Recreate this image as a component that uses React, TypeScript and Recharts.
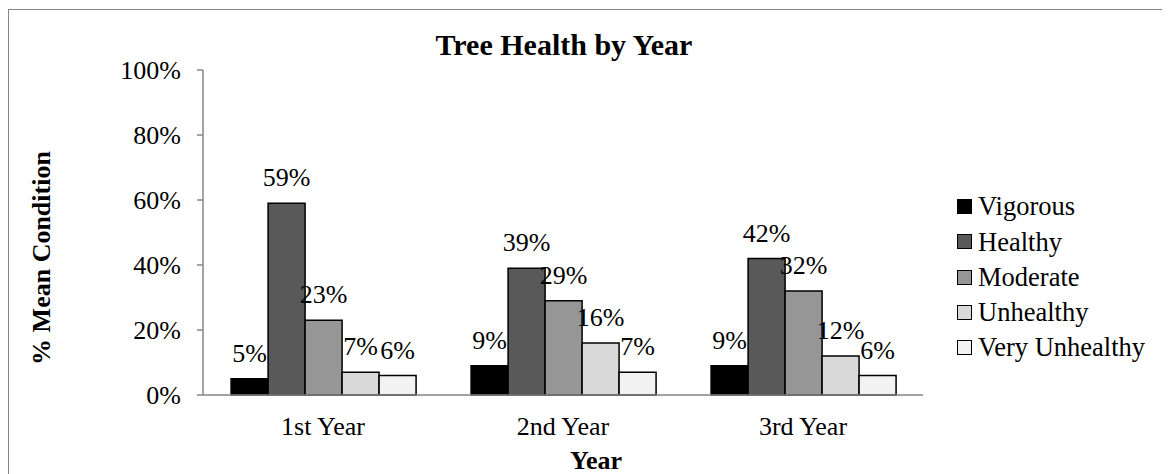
import { Bar, BarChart, LabelList, Legend, XAxis, YAxis } from "recharts";

const categories = ["1st Year", "2nd Year", "3rd Year"];
const seriesNames = ["Vigorous", "Healthy", "Moderate", "Unhealthy", "Very Unhealthy"];
const seriesColors = ["#000000", "#595959", "#969696", "#d9d9d9", "#f2f2f2"];

const vigorous = [5, 9, 9];
const healthy = [59, 39, 42];
const moderate = [23, 29, 32];
const unhealthy = [7, 16, 12];
const veryUnhealthy = [6, 7, 6];

const yTicks = [0, 20, 40, 60, 80, 100];

const seriesValues = [vigorous, healthy, moderate, unhealthy, veryUnhealthy];

const data = categories.map((label, i) => {
	const row: Record<string, string | number> = { label };
	seriesNames.forEach((name, s) => {
		row[name] = seriesValues[s][i];
	});
	return row;
});

const FONT = "Liberation Serif, Times New Roman, serif";
const AXIS_GRAY = "#868686";

const fontCss = `
.tree-chart, .tree-chart text, .tree-chart .recharts-text, .tree-chart .recharts-legend-wrapper {
	font-family: "Liberation Serif", "Times New Roman", serif !important;
}
`;

function LegendContent() {
	return (
		<div style={{ fontFamily: FONT, fontSize: 26.5, color: "#000" }}>
			{seriesNames.map((name, i) => (
				<div key={name} style={{ display: "flex", alignItems: "center", height: 35.25 }}>
					<span
						style={{
							display: "inline-block",
							width: 15,
							height: 15,
							boxSizing: "border-box",
							border: "1.5px solid #000",
							background: seriesColors[i],
							marginRight: 6,
						}}
					/>
					<span style={{ lineHeight: 1, whiteSpace: "nowrap" }}>{name}</span>
				</div>
			))}
		</div>
	);
}

export default function App() {
	return (
		<div
			className="tree-chart"
			style={{
				position: "relative",
				width: 1161,
				height: 464,
				marginTop: 1,
				borderTop: `1px solid ${AXIS_GRAY}`,
				borderLeft: `1px solid ${AXIS_GRAY}`,
				fontFamily: FONT,
				color: "#000",
				overflow: "hidden",
			}}
		>
			<style>{fontCss}</style>
			<BarChart
				width={1161}
				height={464}
				data={data}
				margin={{ top: 60, right: 34, left: 0, bottom: 39 }}
				barCategoryGap="11.7%"
				barGap={0}
			>
				<XAxis
					dataKey="label"
					height={40}
					axisLine={{ stroke: AXIS_GRAY, strokeWidth: 1.5 }}
					tickLine={false}
					tickSize={0}
					tickMargin={22}
					interval={0}
					tick={{ fill: "#000", fontSize: 26, fontFamily: FONT }}
				/>
				<YAxis
					width={194}
					domain={[0, 100]}
					ticks={yTicks}
					interval={0}
					tickFormatter={(v: number) => `${v}%`}
					axisLine={{ stroke: AXIS_GRAY, strokeWidth: 1.5 }}
					tickLine={{ stroke: AXIS_GRAY, strokeWidth: 1.5 }}
					tickSize={6}
					tickMargin={16}
					tick={{ fill: "#000", fontSize: 26, fontFamily: FONT }}
				/>
				<Legend
					layout="vertical"
					align="right"
					verticalAlign="middle"
					width={213}
					wrapperStyle={{ left: 948, top: 179, right: "auto" }}
					content={() => <LegendContent />}
				/>
				{seriesNames.map((name, i) => (
					<Bar
						key={name}
						dataKey={name}
						fill={seriesColors[i]}
						stroke="#000"
						strokeWidth={1.5}
						isAnimationActive={false}
					>
						<LabelList
							dataKey={name}
							position="top"
							offset={17}
							formatter={(v: any) => `${v}%`}
							fill="#000"
							fontSize={26}
							fontFamily={FONT}
						/>
					</Bar>
				))}
			</BarChart>

			<div
				style={{
					position: "absolute",
					left: 555 - 300,
					top: 20,
					width: 600,
					textAlign: "center",
					fontSize: 30,
					lineHeight: 1,
					fontWeight: "bold",
				}}
			>
				Tree Health by Year
			</div>

			<div
				style={{
					position: "absolute",
					left: 587 - 100,
					top: 438,
					width: 200,
					textAlign: "center",
					fontSize: 26,
					lineHeight: 1,
					fontWeight: "bold",
				}}
			>
				Year
			</div>

			<div
				style={{
					position: "absolute",
					left: 33,
					top: 247.5,
					width: 300,
					height: 26,
					textAlign: "center",
					fontSize: 26,
					lineHeight: "26px",
					fontWeight: "bold",
					whiteSpace: "nowrap",
					transform: "translate(-50%, -50%) rotate(-90deg)",
				}}
			>
				% Mean Condition
			</div>
		</div>
	);
}
